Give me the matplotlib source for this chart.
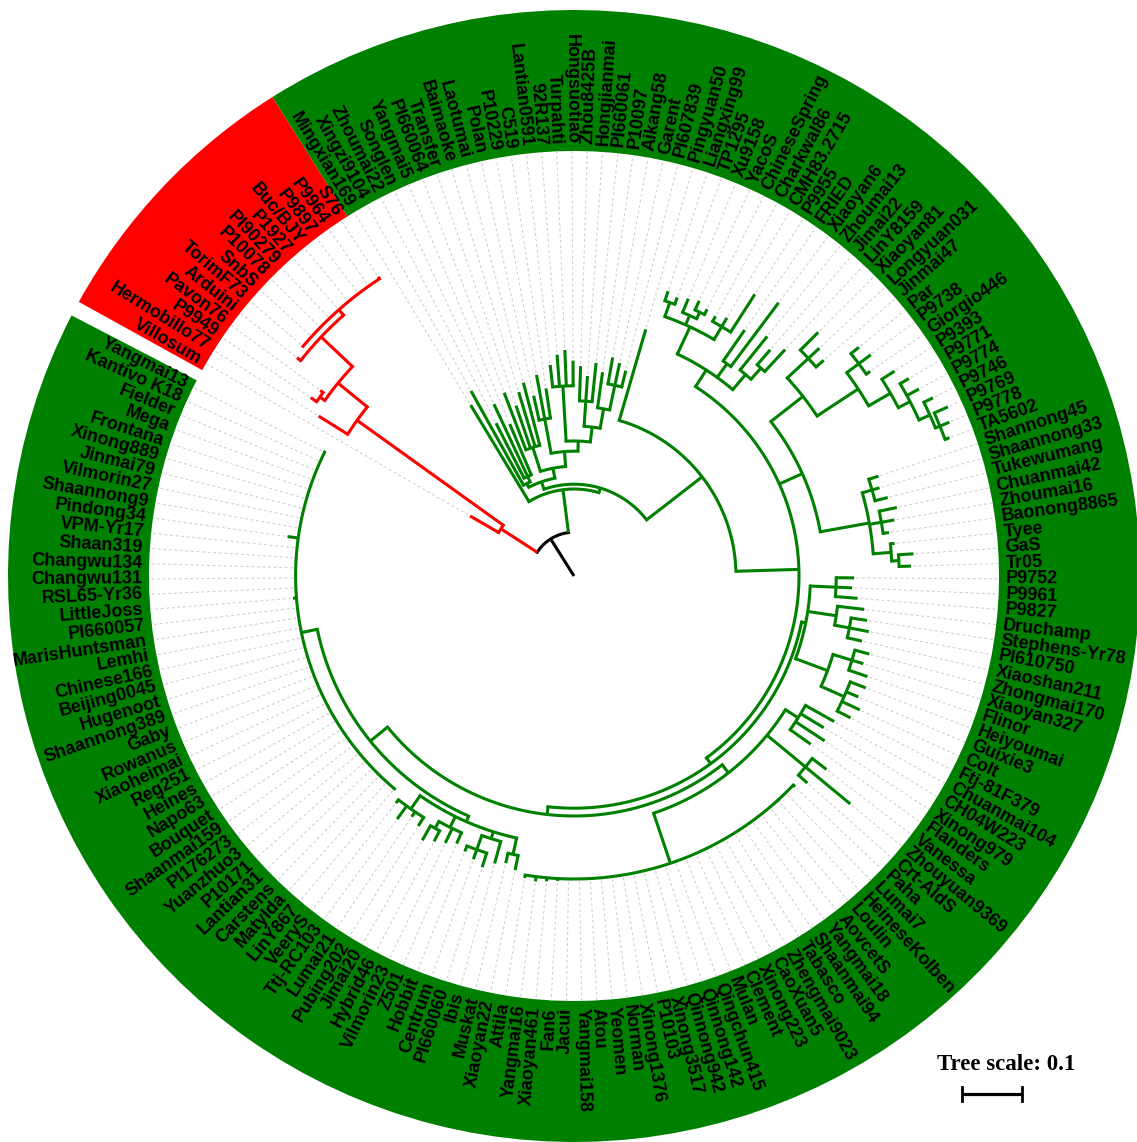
import numpy as np
import matplotlib.pyplot as plt
from matplotlib.patches import Wedge

# Canvas and polar layout settings (pixels)
W, H = 1137, 1142
cx, cy = 574, 576          # tree centre
PX_PER_UNIT = 600          # 0.1 substitutions = 60 px
START = 150.0              # angle of the first leaf (deg)
STEP = 2.06                # angle between neighbouring leaves (deg)
R_IN, R_OUT = 425, 566     # label ring
R_LABEL = 432

RED = "#ff0000"
GREEN = "#008000"

# ---- tree data (newick pieces, branch lengths in substitutions/site) ----
red_clade = ("(Villosum:0.055,(Hermobillo77:0.057,((P9949:0.012,Pavon76:0.006):0.010,"
             "(Arduini:0.008,(TorimF73:0.002,SnbS:0.001,P10078:0.002,PI90279:0.001,P1927:0.002,"
             "Buc/BJY:0.002,P9897:0.001,P9964:0.002,S76:0.004):0.012):0.072):0.063):0.300)")

fan_clade = ("((Xingzi9104:0.180,(Zhoumai22:0.103,Songlen:0.133,Yangmai5:0.092):0.010):0.007,"
             "((PI660064:0.102,Transfer:0.075,Baimaoke:0.095,Laotumai:0.108):0.042,"
             "((Polan:0.042,P10229:0.075,C519:0.050):0.058,"
             "((Lantian0591:0.037,92R137:0.053,Turpahti:0.060,Hongsuotiao:0.042):0.092,"
             "((Zhou8425B:0.058,Hongjianmai:0.042,PI660061:0.065):0.042,"
             "(P10097:0.060,(Aikang58:0.045,Garent:0.038,PI607839:0.028):0.042):0.033):0.025):0.017):0.025):0.017)")

upper_clade = ("(((Liangxing99:0.017,TP1295:0.012):0.025,(Xu9158:0.025,(YacoS:0.017,ChineseSpring:0.010):0.012):0.017,"
               "(Charkwal86:0.010,CMH83.2715:0.017,P9955:0.075):0.025):0.050,"
               "(FRIED:0.063,Xiaoyan6:0.133):0.028,"
               "(Zhoumai13:0.072,(Jimai22:0.033,LinY8159:0.050):0.025):0.033)")

farright_clade = ("((Xiaoyan81:0.042,Longyuan031:0.025,Jinmai47:0.017):0.048,"
                  "((Par:0.017,P9738:0.025,Giorgio446:0.008):0.025,"
                  "(P9393:0.025,(P9771:0.017,P9774:0.023,(P9746:0.017,"
                  "(P9769:0.025,P9778:0.017,TA5602:0.008):0.008):0.020):0.022):0.042):0.082)")

midright_clade = ("((Shannong45:0.017,Shaannong33:0.013,Tukewumang:0.022):0.017,"
                  "(Chuanmai42:0.030,Zhoumai16:0.022,Baonong8865:0.010):0.020,"
                  "(Tyee:0.007,(GaS:0.025,Tr05:0.020):0.012):0.030)")

lowright_clade = ("((P9752:0.030,P9961:0.027,P9827:0.037):0.043,"
                  "(Druchamp:0.045,(Stephens-Yr78:0.027,PI610750:0.033,Xiaoshan211:0.025):0.025):0.048,"
                  "((Zhongmai170:0.025,Xiaoyan327:0.020,Flinor:0.033):0.033,"
                  "(Heiyoumai:0.028,Guixie3:0.022,Colt:0.033,Ftj-81F379:0.025):0.042):0.057)")

bottom_clade = ("((Chuanmai104:0.055,CH04W223:0.045,Xinong979:0.058,Flanders:0.042):0.025,"
                "(Vanessa:0.030,Zhouyuan9369:0.097,Crt-AldS:0.020):0.083,"
                "(Paha:0.004,Lumai7:0.002,HeineseKolben:0.003,Loulin:0.001,AovcetS:0.002,Yangmai18:0.001,"
                "Shaanmai94:0.002,Tabasco:0.001,Zhengmai9023:0.002,CaoXuan5:0.001,Xinong223:0.001,"
                "Clement:0.002,Mulan:0.001,Qingchun415:0.001,Qinnong142:0.001,Qinnong942:0.002,"
                "Xinong3517:0.001,P10103:0.001,Xinong1376:0.001,Norman:0.001,Yeomen:0.001,Atou:0.001,"
                "Yangmai158:0.001,Jacui:0.002,Fan6:0.004,Xiaoyan461:0.006,Yangmai16:0.008,Attila:0.005):0.088)")

lowleft_clade = ("((Xiaoyan22:0.025,Muskat:0.017):0.028,"
                 "(Ibis:0.038,(PI660060:0.025,Centrum:0.017,Hobbit:0.010):0.025):0.012,"
                 "(Z501:0.020,Vilmorin23:0.027,(Hybrid46:0.020,Jimai20:0.028):0.013):0.020,"
                 "(Pubing202:0.017,Lumai21:0.010,Ttj-RC103:0.027,VeeryS:0.007):0.027)")

left_clade = ("(LinY867:0.001,Matylda:0.001,Carstens:0.002,Lantian31:0.001,P10171:0.001,Yuanzhuo3:0.001,"
              "PI176273:0.002,Shaanmai159:0.001,Bouquet:0.001,Napo63:0.001,Heines:0.001,Reg251:0.001,"
              "Xiaoheimai:0.002,Rowanus:0.001,Gaby:0.001,Shaannong389:0.001,Hugenoot:0.001,"
              "Beijing0045:0.001,Chinese166:0.001,Lemhi:0.002,MarisHuntsman:0.001,PI660057:0.001,"
              "LittleJoss:0.006,RSL65-Yr36:0.001,Changwu131:0.001,Changwu134:0.001,Shaan319:0.001,"
              "VPM-Yr17:0.001,Pindong34:0.018,Shaannong9:0.001,Vilmorin27:0.001,Jinmai79:0.001,"
              "Xinong889:0.001,Frontana:0.001,Mega:0.001,Fielder:0.001,Kantivo_K18:0.001,Yangmai13:0.002)")

# backbone joining the pieces
lad3 = f"({lowleft_clade}:0.010,{left_clade}:0.027)"
lad2 = f"({bottom_clade}:0.017,{lad3}:0.037)"
lad1 = f"({lowright_clade}:0.007,{lad2}:0.013)"
right_node = f"({farright_clade}:0.068,{midright_clade}:0.083)"
n225 = f"({upper_clade}:0.033,{right_node}:0.042,{lad1}:0.012)"
na = f"(Pingyuan50:0.158,{n225}:0.105)"
ga = f"({fan_clade}:0.013,{na}:0.117)"
green_clade = f"(Mingxian169:0.188,{ga}:0.008)"
newick = f"({red_clade}:0.072,{green_clade}:0.072):0.073;"


def parse_newick(s):
    s = s.replace(" ", "").rstrip(";")
    pos = 0

    def node():
        nonlocal pos
        kids = []
        if s[pos] == "(":
            pos += 1
            while True:
                kids.append(node())
                if s[pos] == ",":
                    pos += 1
                    continue
                pos += 1  # ')'
                break
        start = pos
        while pos < len(s) and s[pos] not in ",():":
            pos += 1
        name = s[start:pos].replace("_", " ")
        length = 0.0
        if pos < len(s) and s[pos] == ":":
            pos += 1
            start = pos
            while pos < len(s) and s[pos] not in ",()":
                pos += 1
            length = float(s[start:pos])
        return {"name": name, "len": length, "kids": kids}

    return node()


tree = parse_newick(newick)
leaves = []


def layout(n, parent_depth):
    n["depth"] = parent_depth + n["len"]
    if not n["kids"]:
        n["angle"] = START - len(leaves) * STEP
        leaves.append(n)
        return
    for k in n["kids"]:
        layout(k, n["depth"])
    n["angle"] = (n["kids"][0]["angle"] + n["kids"][-1]["angle"]) / 2


def count_leaves(n):
    return 1 if not n["kids"] else sum(count_leaves(k) for k in n["kids"])


layout(tree, 0.0)
n_leaves = len(leaves)
n_red = count_leaves(tree["kids"][0])

fig = plt.figure(figsize=(W / 100, H / 100), dpi=100)
ax = fig.add_axes([0, 0, 1, 1])
ax.set_xlim(-cx, W - cx)
ax.set_ylim(-(H - cy), cy)
ax.axis("off")

# coloured label ring
first_edge = START + STEP / 2
red_end = START - (n_red - 0.5) * STEP
last_edge = START - (n_leaves - 0.5) * STEP
ax.add_patch(Wedge((0, 0), R_OUT, red_end, first_edge, width=R_OUT - R_IN, facecolor=RED, edgecolor="none"))
ax.add_patch(Wedge((0, 0), R_OUT, last_edge, red_end, width=R_OUT - R_IN, facecolor=GREEN, edgecolor="none"))


def pol(r, a):
    t = np.radians(a)
    return r * np.cos(t), r * np.sin(t)


LW = 2.2


def radial(r0, r1, a, color):
    x0, y0 = pol(r0, a)
    x1, y1 = pol(r1, a)
    ax.plot([x0, x1], [y0, y1], color=color, lw=LW, solid_capstyle="butt", zorder=3)


def arc(r, a0, a1, color):
    t = np.linspace(a0, a1, max(2, int(abs(a1 - a0) * 4)))
    x, y = pol(r, t)
    ax.plot(x, y, color=color, lw=LW, solid_capstyle="projecting", zorder=3)


def draw(n, parent_depth, color):
    r0 = parent_depth * PX_PER_UNIT
    r1 = n["depth"] * PX_PER_UNIT
    radial(r0, r1, n["angle"], color)
    if n["kids"]:
        arc(r1, n["kids"][0]["angle"], n["kids"][-1]["angle"], color)
        for k in n["kids"]:
            draw(k, n["depth"], color)
    else:
        # dotted guide to the label
        x0, y0 = pol(r1 + 2, n["angle"])
        x1, y1 = pol(R_IN, n["angle"])
        ax.plot([x0, x1], [y0, y1], color="#cfcfcf", lw=0.8, ls=(0, (2.5, 2.5)), zorder=1)


# root stem and root arc in black
radial(0, tree["depth"] * PX_PER_UNIT, tree["angle"], "black")
arc(tree["depth"] * PX_PER_UNIT, tree["kids"][0]["angle"], tree["kids"][-1]["angle"], "black")
draw(tree["kids"][0], tree["depth"], RED)
draw(tree["kids"][1], tree["depth"], GREEN)

# leaf labels
for leaf in leaves:
    a = (leaf["angle"] + 180) % 360 - 180
    x, y = pol(R_LABEL, a)
    if -90 <= a <= 90:
        rot, ha = a, "left"
    else:
        rot, ha = (a - 180 if a > 0 else a + 180), "right"
    ax.text(x, y, leaf["name"], rotation=rot, rotation_mode="anchor", ha=ha, va="center",
            fontsize=13, fontweight="bold", family="Liberation Sans", color="black", zorder=4)

# tree scale
bar_len = 0.1 * PX_PER_UNIT
bx0, by = 962 - cx, cy - 1094
ax.text(937 - cx, cy - 1070, "Tree scale: 0.1", family="Liberation Serif", fontweight="bold",
        fontsize=16.5, ha="left", va="baseline")
ax.plot([bx0, bx0 + bar_len], [by, by], color="black", lw=2.3, solid_capstyle="butt")
ax.plot([bx0, bx0], [by - 7, by + 7], color="black", lw=2.0)
ax.plot([bx0 + bar_len, bx0 + bar_len], [by - 7, by + 7], color="black", lw=2.0)

fig.savefig("out.png", dpi=100)
